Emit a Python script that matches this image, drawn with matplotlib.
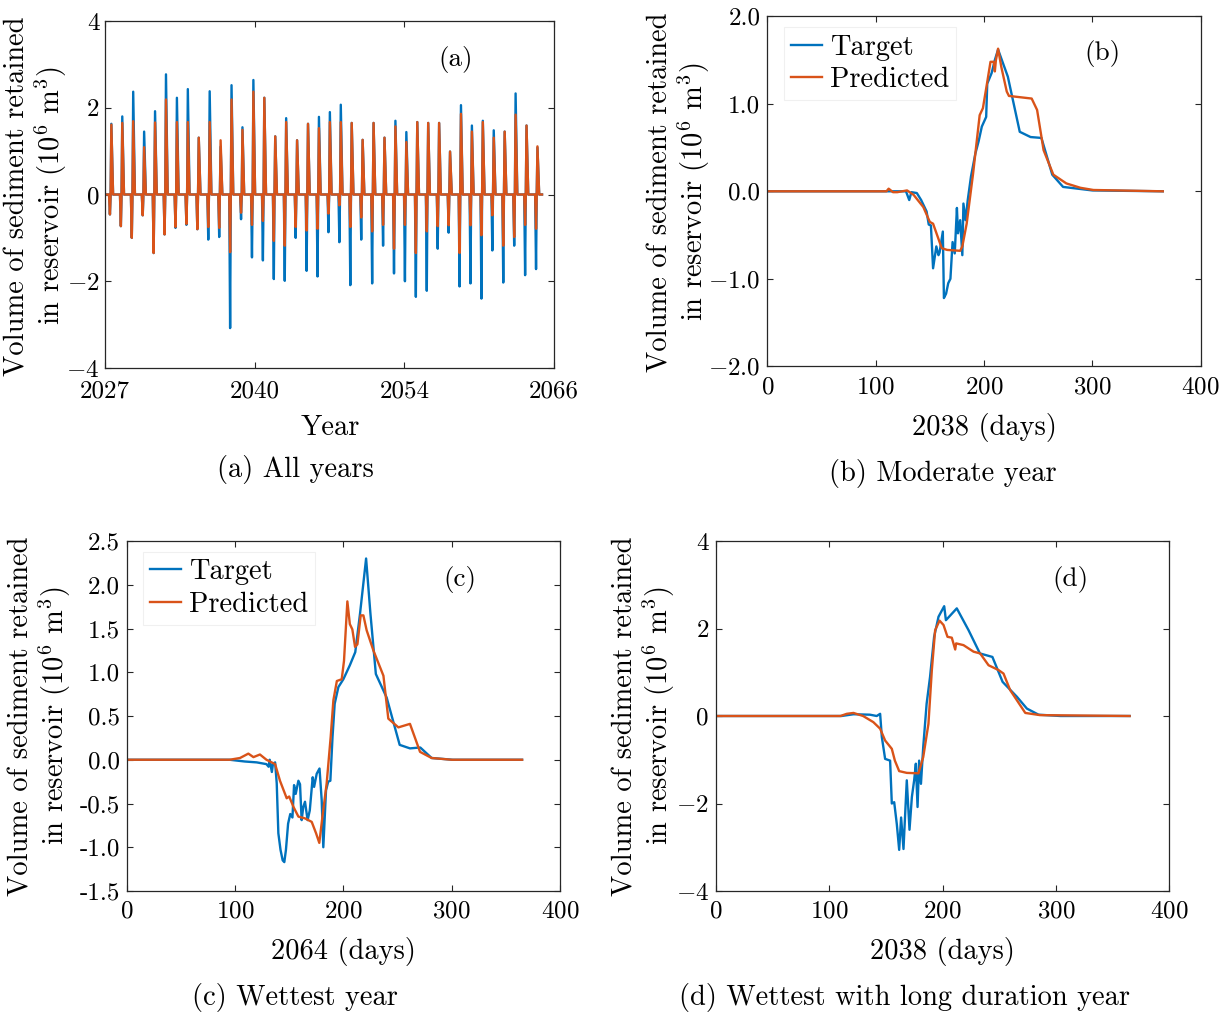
import matplotlib
matplotlib.use("Agg")
import matplotlib.pyplot as plt

plt.rcParams.update({
    "font.family": "serif",
    "font.serif": ["cmr10"],
    "mathtext.fontset": "cm",
    "axes.formatter.use_mathtext": True,
    "axes.unicode_minus": False,
})

BLUE = "#0072BD"
ORANGE = "#D95319"

# ---------------- Panel (a): all years (per-year extremes) ----------------
a_tick_pos = [0, 5000, 10000, 15000]
a_tick_labels = ["2027", "2040", "2054", "2066"]
a_target_max = [1.63, 1.80, 2.37, 1.45, 1.92, 2.77, 2.23, 2.43, 1.31, 2.38,
                1.10, 2.52, 1.55, 2.64, 2.23, 1.34, 1.76, 1.25, 1.63, 1.79,
                1.90, 2.07, 1.65, 1.26, 1.65, 1.31, 1.70, 1.44, 1.67, 1.65,
                1.65, 0.99, 2.06, 1.59, 1.70, 1.48, 1.45, 2.33, 1.59, 1.08]
a_pred_max = [1.61, 1.65, 1.69, 1.09, 1.66, 2.19, 1.67, 1.67, 1.31, 1.67,
              1.25, 2.19, 1.49, 2.37, 2.23, 1.34, 1.67, 1.25, 1.63, 1.53,
              1.67, 1.67, 1.65, 1.26, 1.65, 1.31, 1.57, 1.21, 1.67, 1.65,
              1.65, 0.99, 1.86, 1.45, 1.67, 1.31, 1.45, 1.84, 1.59, 1.11]
a_target_min = [-0.46, -0.73, -1.00, -0.48, -1.35, -0.92, -0.77, -0.70, -0.80, -1.04,
                -0.98, -3.08, -0.57, -1.45, -1.52, -1.95, -1.99, -1.00, -1.76, -1.89,
                -0.87, -1.10, -2.09, -1.04, -2.05, -1.18, -1.82, -2.00, -2.36, -2.22,
                -1.25, -0.88, -2.12, -2.05, -2.40, -1.29, -2.03, -1.18, -1.86, -1.72]
a_pred_min = [-0.46, -0.73, -1.00, -0.48, -1.35, -0.92, -0.75, -0.68, -0.80, -0.75,
              -0.77, -1.33, -0.42, -0.70, -0.61, -1.07, -1.18, -0.75, -0.83, -0.79,
              -0.44, -0.25, -0.75, -0.53, -0.85, -0.70, -1.25, -0.70, -1.35, -0.85,
              -0.73, -0.71, -1.35, -0.71, -0.94, -0.48, -1.18, -0.98, -0.70, -0.79]
a_year_days = [135, 165, 188, 212, 270]   # day-of-year of the annual key points

# ---------------- Panel (b): moderate year ----------------
b_t_day = [1, 128, 131, 133, 138, 142, 147, 149, 151, 153, 156, 158, 159, 162, 163,
           165, 167, 169, 171, 173, 175, 176, 178, 180, 181, 183, 185, 188, 192, 195,
           198, 202, 203, 207, 210, 213, 222, 233, 243, 253, 263, 273, 300, 365]
b_t_val = [0, 0, -0.10, -0.01, -0.02, -0.10, -0.23, -0.38, -0.39, -0.88, -0.63, -0.73,
           -0.70, -0.46, -1.22, -1.17, -1.05, -1.00, -0.58, -0.71, -0.19, -0.48, -0.33,
           -0.73, -0.14, -0.33, -0.10, 0.17, 0.43, 0.57, 0.74, 0.85, 1.23, 1.35, 1.50,
           1.62, 1.31, 0.68, 0.62, 0.61, 0.19, 0.05, 0.01, 0.0]
b_p_day = [1, 110, 112, 116, 120, 129, 135, 144, 150, 153, 161, 166, 178, 180, 184,
           190, 196, 199, 203, 206, 209, 210, 211, 213, 216, 221, 223, 244, 249, 255,
           264, 276, 289, 301, 365]
b_p_val = [0, 0, 0.03, -0.01, -0.01, 0.01, -0.04, -0.18, -0.35, -0.37, -0.65, -0.67,
           -0.68, -0.63, -0.37, 0.21, 0.87, 0.95, 1.25, 1.48, 1.48, 1.37, 1.50, 1.63,
           1.42, 1.14, 1.09, 1.06, 0.93, 0.47, 0.19, 0.09, 0.04, 0.015, 0.0]

# ---------------- Panel (c): wettest year ----------------
c_t_day = [1, 95, 109, 120, 129, 131, 132, 134, 135, 137, 138.5, 140, 142, 144, 145.5,
           147, 149, 151, 153, 154.5, 156, 158.5, 160, 161.5, 163, 164.6, 167, 169,
           171.7, 173, 175.4, 178, 180, 181.5, 184, 186, 188, 190, 192, 195.4, 200, 206,
           211, 215.4, 221, 225, 230, 240, 252, 261.5, 271, 281.5, 301, 365]
c_t_val = [0, 0, -0.02, -0.03, -0.05, -0.08, 0.0, -0.14, -0.05, -0.03, -0.27, -0.84,
           -1.03, -1.15, -1.17, -1.03, -0.73, -0.62, -0.66, -0.29, -0.39, -0.24, -0.28,
           -0.69, -0.54, -0.48, -0.69, -0.58, -0.20, -0.31, -0.16, -0.10, -0.46, -1.00,
           -0.35, -0.25, -0.24, 0.26, 0.64, 0.83, 0.92, 1.08, 1.23, 1.67, 2.30, 1.67,
           0.98, 0.71, 0.17, 0.13, 0.14, 0.02, 0.0, 0.0]
c_p_day = [1, 95, 104.6, 112.3, 117, 123, 129, 137, 141.5, 147.7, 150, 154, 158.5,
           164.6, 170.8, 174.8, 177.8, 181, 184.6, 188.3, 190.8, 194, 198.5, 200.6,
           203.7, 206, 208.3, 210.8, 213, 216, 218.5, 221.5, 227.7, 237, 241.5, 250.8,
           261.5, 270.8, 281.5, 300, 365]
c_p_val = [0, 0, 0.02, 0.07, 0.03, 0.06, 0.0, -0.05, -0.24, -0.44, -0.42, -0.54, -0.65,
           -0.67, -0.71, -0.84, -0.95, -0.62, -0.27, 0.26, 0.68, 0.90, 0.92, 1.13, 1.81,
           1.55, 1.49, 1.29, 1.32, 1.65, 1.65, 1.48, 1.25, 0.96, 0.47, 0.37, 0.41, 0.09,
           0.02, 0.0, 0.0]

# ---------------- Panel (d): wettest with long duration ----------------
d_t_day = [1, 111, 121.5, 136, 142, 145, 146.5, 149.4, 153.8, 155.3, 157.4, 159.7,
           161.8, 163.5, 165.6, 168.5, 170.9, 173, 175, 176.5, 178, 179.4, 181, 183,
           186, 189, 192.6, 196.5, 201.5, 203, 212.6, 223, 233, 244, 253, 265.6, 274.4,
           284.7, 304, 365]
d_t_val = [0, 0, 0.04, 0.03, 0.0, 0.05, -0.48, -0.98, -1.02, -2.00, -1.97, -2.47,
           -3.06, -2.32, -3.04, -1.47, -2.60, -1.85, -1.47, -1.09, -2.08, -1.02, -1.55,
           -0.71, 0.28, 0.89, 1.81, 2.27, 2.51, 2.19, 2.46, 1.96, 1.43, 1.35, 0.78, 0.44,
           0.17, 0.03, 0.0, 0.0]
d_p_day = [1, 110, 115.6, 121.5, 130, 139, 145, 149.4, 155.3, 158, 161.8, 168.5, 178.8,
           183, 187.6, 190.6, 193.5, 197.4, 200.9, 204.4, 208.2, 211.2, 212, 218.5,
           227.4, 233.2, 240.6, 249.4, 253.8, 259.7, 265.6, 273, 286, 365]
d_p_val = [0, 0, 0.05, 0.07, 0.0, -0.14, -0.29, -0.56, -0.75, -1.02, -1.26, -1.30,
           -1.31, -0.94, -0.18, 1.05, 1.96, 2.18, 2.08, 1.81, 1.79, 1.52, 1.66, 1.62,
           1.47, 1.43, 1.16, 1.05, 0.97, 0.59, 0.36, 0.07, 0.02, 0.0]

day_ticks = [0, 100, 200, 300, 400]

W, H = 1230, 1018
fig = plt.figure(figsize=(W / 100, H / 100), dpi=100)


def px_axes(left, top, right, bottom):
    return fig.add_axes([left / W, 1 - bottom / H, (right - left) / W, (bottom - top) / H])


def style(ax):
    for s in ax.spines.values():
        s.set_color("#262626")
        s.set_linewidth(0.9)
    ax.tick_params(direction="in", top=True, right=True, length=4, width=0.8,
                   color="#262626", labelsize=18)
    ax.tick_params(axis="x", pad=7)
    ax.tick_params(axis="y", pad=5)


LW = 1.7
LABSIZE = 20.5
YLAB = "Volume of sediment retained\nin reservoir (10$^6$ m$^3$)"


def ftext(x, y, s, size=LABSIZE, **kw):
    fig.text(x / W, 1 - y / H, s, ha="center", va="center", fontsize=size, **kw)


# ---- (a)
axa = px_axes(105, 21, 554, 368)
ax_x, ax_t, ax_p = [0], [0], [0]
for k in range(len(a_target_max)):
    base = k * 365
    tvals = [0, a_target_min[k], 0, a_target_max[k], 0]
    pvals = [0, a_pred_min[k], 0, a_pred_max[k], 0]
    for d, vt, vp in zip(a_year_days, tvals, pvals):
        ax_x.append(base + d)
        ax_t.append(vt)
        ax_p.append(vp)
ax_x.append(len(a_target_max) * 365)
ax_t.append(0)
ax_p.append(0)
axa.plot(ax_x, ax_t, color=BLUE, lw=LW)
axa.plot(ax_x, ax_p, color=ORANGE, lw=LW)
axa.set_xlim(0, 15000)
axa.set_ylim(-4, 4)
axa.set_xticks(a_tick_pos)
axa.set_xticklabels(a_tick_labels)
axa.set_yticks([-4, -2, 0, 2, 4])
axa.set_yticklabels(["$-4$", "$-2$", "0", "2", "4"])
style(axa)
axa.tick_params(axis="y", pad=4)
axa.tick_params(axis="x", pad=9)
axa.text(0.782, 0.888, "(a)", transform=axa.transAxes, ha="center", va="center", fontsize=19.5)

# ---- (b)
axb = px_axes(767.3, 16.3, 1200.7, 366.3)
axb.plot(b_t_day, b_t_val, color=BLUE, lw=LW, label="Target")
axb.plot(b_p_day, b_p_val, color=ORANGE, lw=LW, label="Predicted")
axb.set_xlim(0, 400)
axb.set_ylim(-2, 2)
axb.set_xticks(day_ticks)
axb.set_yticks([-2, -1, 0, 1, 2])
axb.set_yticklabels(["$-2.0$", "$-1.0$", "0.0", "1.0", "2.0"])
style(axb)
axb.text(0.774, 0.894, "(b)", transform=axb.transAxes, ha="center", va="center", fontsize=19.5)

# ---- (c)
axc = px_axes(126.7, 541, 560, 891)
axc.plot(c_t_day, c_t_val, color=BLUE, lw=LW, label="Target")
axc.plot(c_p_day, c_p_val, color=ORANGE, lw=LW, label="Predicted")
axc.set_xlim(0, 400)
axc.set_ylim(-1.5, 2.5)
axc.set_xticks(day_ticks)
c_yt = [-1.5, -1.0, -0.5, 0.0, 0.5, 1.0, 1.5, 2.0, 2.5]
axc.set_yticks(c_yt)
axc.set_yticklabels([f"{v:.1f}" for v in c_yt])
style(axc)
axc.text(0.769, 0.889, "(c)", transform=axc.transAxes, ha="center", va="center", fontsize=19.5)

# ---- (d)
axd = px_axes(715.7, 541, 1169.3, 891)
axd.plot(d_t_day, d_t_val, color=BLUE, lw=LW)
axd.plot(d_p_day, d_p_val, color=ORANGE, lw=LW)
axd.set_xlim(0, 400)
axd.set_ylim(-4, 4)
axd.set_xticks(day_ticks)
axd.set_yticks([-4, -2, 0, 2, 4])
axd.set_yticklabels(["$-4$", "$-2$", "0", "2", "4"])
style(axd)
axd.text(0.783, 0.891, "(d)", transform=axd.transAxes, ha="center", va="center", fontsize=19.5)

# legends
for ax, bx in ((axb, (0.0385, 0.969)), (axc, (0.0376, 0.969))):
    leg = ax.legend(loc="upper left", bbox_to_anchor=bx, borderaxespad=0,
                    fontsize=20.5, handlelength=1.1, handletextpad=0.25,
                    labelspacing=0.22, borderpad=0.25, fancybox=False,
                    framealpha=1)
    leg.get_frame().set_edgecolor("#f0f0f0")
    leg.get_frame().set_linewidth(0.8)

# y labels
ftext(37, 196, YLAB, rotation=90, linespacing=1.1)
ftext(680, 192, YLAB, rotation=90, linespacing=1.1)
ftext(41, 716, YLAB, rotation=90, linespacing=1.1)
ftext(645, 716, YLAB, rotation=90, linespacing=1.1)

# x labels
ftext(330, 428, "Year")
ftext(984, 428, "2038 (days)")
ftext(343, 951, "2064 (days)")
ftext(942, 951, "2038 (days)")

# captions
ftext(295, 470, "(a) All years")
ftext(943, 474, "(b) Moderate year")
ftext(295, 998, "(c) Wettest year")
ftext(905, 998, "(d) Wettest with long duration year")

fig.savefig("out.png", dpi=100)
